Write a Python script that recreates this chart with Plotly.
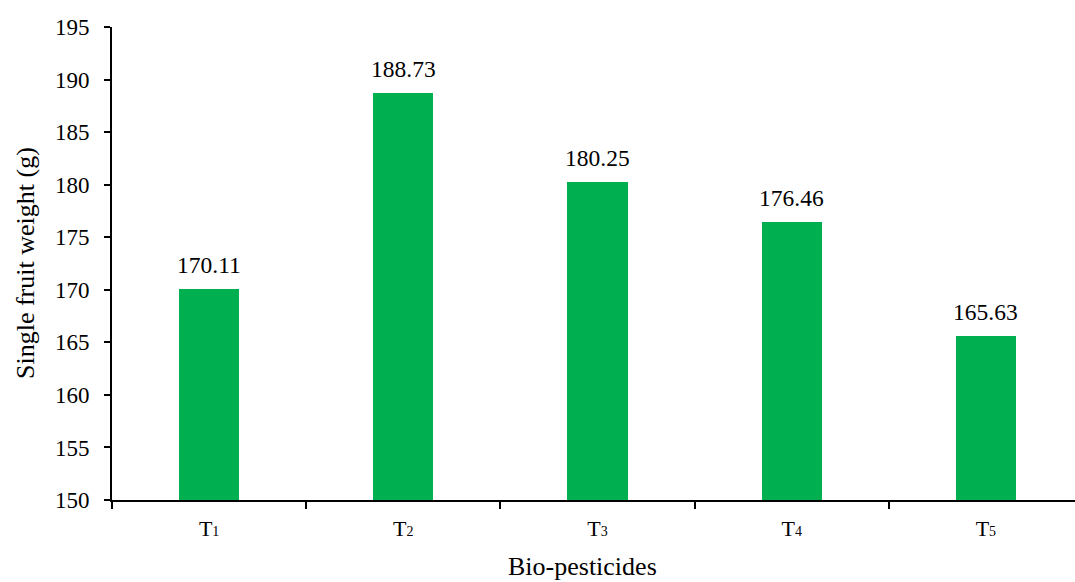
import plotly.graph_objects as go

# Single fruit weight under each bio-pesticide treatment
treatment_ids = ["1", "2", "3", "4", "5"]
treatments = [f"T<span style=\"font-size:14px\">{i}</span>" for i in treatment_ids]
fruit_weight = [170.11, 188.73, 180.25, 176.46, 165.63]
y_ticks = [150, 155, 160, 165, 170, 175, 180, 185, 190, 195]

FONT = "'Liberation Serif', 'Times New Roman', serif"
BAR_GREEN = "#00B050"

fig = go.Figure()
fig.add_trace(go.Bar(
    x=treatments,
    y=fruit_weight,
    width=0.31,
    marker=dict(color=BAR_GREEN, line=dict(width=0)),
    hoverinfo="y",
))

# value labels above each bar
for name, val in zip(treatments, fruit_weight):
    fig.add_annotation(
        x=name, y=val, xref="x", yref="y",
        text=f"{val:.2f}", showarrow=False,
        yanchor="bottom", yshift=9,
        font=dict(family=FONT, size=23.5, color="black"),
    )

W, H = 1075, 582
ML, MR, MT, MB = 112, 0, 27, 82
plot_w = W - ML - MR

# axis titles placed in pixel terms relative to the plot area
fig.add_annotation(
    text="Single fruit weight (g)", xref="paper", yref="paper",
    x=(25 - ML) / plot_w, y=(H - MB - 263) / (H - MT - MB),
    textangle=-90, showarrow=False, xanchor="center", yanchor="middle",
    font=dict(family=FONT, size=26, color="black"),
)
fig.add_annotation(
    text="Bio-pesticides", xref="paper", yref="paper",
    x=(582 - ML) / plot_w, y=-(566 - (H - MB)) / (H - MT - MB),
    showarrow=False, xanchor="center", yanchor="middle",
    font=dict(family=FONT, size=26, color="black"),
)

fig.update_layout(
    width=W, height=H,
    margin=dict(l=ML, r=MR, t=MT, b=MB, pad=0),
    plot_bgcolor="white", paper_bgcolor="white",
    showlegend=False,
    font=dict(family=FONT, size=22, color="black"),
    bargap=0,
)
fig.update_xaxes(
    type="category",
    range=[-0.5, -0.5 + plot_w / 194.2],
    showline=True, linecolor="black", linewidth=2,
    ticks="outside", tickson="boundaries", ticklen=7, tickwidth=1.5, tickcolor="black",
    ticklabelstandoff=8,
    showgrid=False, zeroline=False,
    tickfont=dict(family=FONT, size=22, color="black"),
)
fig.update_yaxes(
    range=[150, 195],
    tickvals=y_ticks,
    showline=True, linecolor="black", linewidth=2,
    ticks="outside", ticklen=6, tickwidth=1.5, tickcolor="black",
    ticklabelstandoff=10,
    showgrid=False, zeroline=False,
    tickfont=dict(family=FONT, size=23, color="black"),
)

fig.write_html("out.html")
